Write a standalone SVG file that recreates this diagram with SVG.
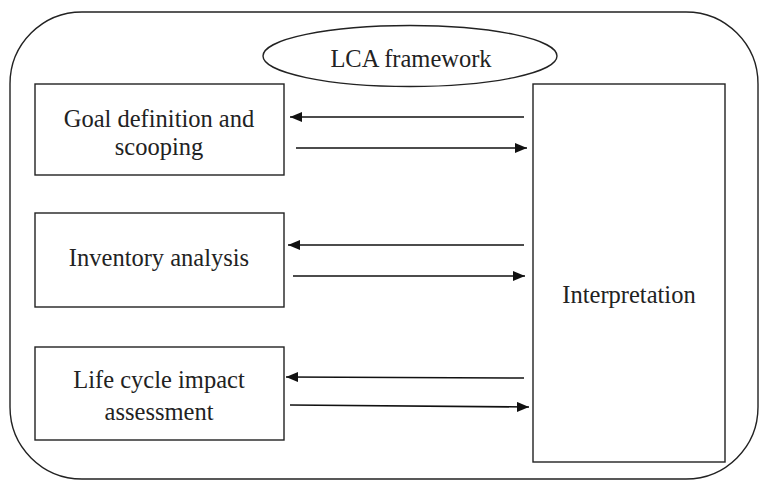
<svg xmlns="http://www.w3.org/2000/svg" width="759" height="481" viewBox="0 0 759 481">
<style>
.box{fill:#fff;stroke:#222;stroke-width:1.4}
.t{font-family:"Liberation Serif","Times New Roman",serif;font-size:24.5px;fill:#222;text-anchor:middle}
.c{stroke:#111;stroke-width:1.6;fill:none;marker-end:url(#ah)}
</style>
<defs>
<marker id="ah" viewBox="0 0 12 10" refX="12" refY="5" markerWidth="12" markerHeight="10" markerUnits="userSpaceOnUse" orient="auto">
<path d="M0,0 L12,5 L0,10 Z" fill="#111"/>
</marker>
</defs>
<rect id="frame" x="10" y="12" width="748" height="467" rx="72" ry="72" fill="#fff" stroke="#222" stroke-width="1.4"/>
<g id="lca">
<ellipse cx="410" cy="56" rx="147" ry="30.5" class="box"/>
<text x="411" y="67" class="t">LCA framework</text>
</g>
<g id="goal">
<rect x="35" y="84" width="249" height="91" class="box"/>
<text x="159" y="127" class="t">Goal definition and</text>
<text x="159" y="155" class="t">scooping</text>
</g>
<g id="inventory">
<rect x="35" y="213" width="249" height="94" class="box"/>
<text x="159" y="266" class="t">Inventory analysis</text>
</g>
<g id="impact">
<rect x="35" y="347" width="249" height="93" class="box"/>
<text x="159" y="388" class="t">Life cycle impact</text>
<text x="159" y="420" class="t">assessment</text>
</g>
<g id="interpretation">
<rect x="533" y="84" width="192" height="378" class="box"/>
<text x="629" y="303" class="t">Interpretation</text>
</g>
<g id="connectors">
<line x1="524" y1="117" x2="290" y2="117" class="c"/>
<line x1="296" y1="148" x2="527" y2="148" class="c"/>
<line x1="524" y1="245" x2="288" y2="245" class="c"/>
<line x1="293" y1="276" x2="525" y2="276" class="c"/>
<line x1="524" y1="378" x2="286" y2="377" class="c"/>
<line x1="290" y1="405" x2="529" y2="407" class="c"/>
</g>
</svg>
